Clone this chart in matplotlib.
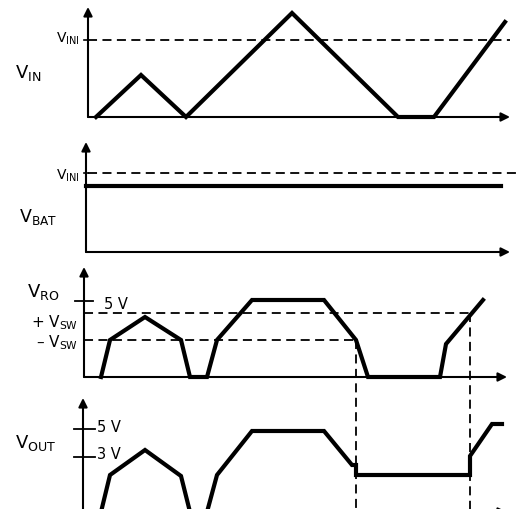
import matplotlib
matplotlib.use("Agg")
import matplotlib.pyplot as plt

plt.rcParams['font.family'] = ['DejaVu Sans']

# ---------------- data (time units, level units) ----------------
# Panel 1: V_IN
vin_t = [2.5, 13.75, 25, 51.5, 78, 87, 104.75]
vin_v = [0, 10.5, 0, 26, 0, 0, 23.75]
vini_p1 = 19.25

# Panel 2: V_BAT
vini_p2 = 19.75
vbat_level = 16.5
vbat_t = [0, 103.75]

# Panel 3: V_RO
vro_t = [3.75, 6, 14.75, 23.75, 26, 30.25, 32.75, 41.5, 59.5, 67.5, 70.5, 88.5, 90, 99.25]
vro_v = [0, 9.25, 15, 9.25, 0, 0, 9.25, 19.25, 19.25, 9.25, 0, 0, 8.25, 19.25]
vro_5v = 19
vsw_plus = 16
vsw_minus = 9.25
t_cross_minus = 67.5
t_cross_plus = 96

# Panel 4: V_OUT
vout_t = [3.75, 6, 14.75, 23.75, 26, 30.25, 32.75, 41.5, 59.5, 66.5, 67.5, 67.5, 96, 96, 101.5, 104]
vout_v = [0, 9.25, 15.5, 9, 0, 0, 9.25, 20.25, 20.25, 11.75, 11.75, 9.25, 9.25, 14, 22, 22]
vout_5v = 20.75
vout_3v = 13.75

# ---------------- layout ----------------
W, H = 519, 510
fig = plt.figure(figsize=(W / 100, H / 100), dpi=100)
XLIM = (-21.5, 108.25)

def make_ax(top_px, bot_px, ylim):
    ax = fig.add_axes([0, (H - bot_px) / H, 1, (bot_px - top_px) / H])
    ax.set_xlim(*XLIM)
    ax.set_ylim(*ylim)
    ax.axis('off')
    return ax

ax1 = make_ax(0, 130, (-3, 29.5))
ax2 = make_ax(130, 260, (-1.75, 30.75))
ax3 = make_ax(260, 390, (-3, 29.5))
ax4 = make_ax(390, 510, (0.75, 30.75))

K = 'black'
WLW = 3.0
ALW = 1.5
DASH = dict(color=K, lw=1.3, linestyle=(0, (5, 3)), clip_on=False)

def axes_arrows(ax, x0, ytop, xend):
    ap = dict(arrowstyle='-|>', lw=ALW, color=K, shrinkA=0, shrinkB=0,
              mutation_scale=13)
    ax.annotate('', xy=(x0, ytop), xytext=(x0, 0), arrowprops=ap,
                annotation_clip=False)
    ax.annotate('', xy=(xend, 0), xytext=(x0, 0), arrowprops=ap,
                annotation_clip=False)

def label(ax, t, lv, s, size, ha='left'):
    ax.text(t, lv, s, fontsize=size, ha=ha, va='baseline', color=K)

# Panel 1
axes_arrows(ax1, 0.5, 27.5, 106)
ax1.plot([0.5, 106], [vini_p1, vini_p1], **DASH)
ax1.plot([-0.5, 0.5], [vini_p1, vini_p1], color=K, lw=1.2)
ax1.plot(vin_t, vin_v, color=K, lw=WLW, solid_joinstyle='miter', clip_on=False)
label(ax1, -17.75, 10, r'$\mathregular{V_{IN}}$', 13)
label(ax1, -1.5, 18.75, r'$\mathregular{V_{INI}}$', 10, ha='right')

# Panel 2
axes_arrows(ax2, 0, 27.5, 106)
ax2.plot([0.5, 108.25], [vini_p2, vini_p2], **DASH)
ax2.plot([-0.5, 0.5], [vini_p2, vini_p2], color=K, lw=1.2)
ax2.plot(vbat_t, [vbat_level, vbat_level], color=K, lw=WLW, clip_on=False)
label(ax2, -1.5, 18.25, r'$\mathregular{V_{INI}}$', 10, ha='right')
label(ax2, -16.75, 7.75, r'$\mathregular{V_{BAT}}$', 12.5)

# Panel 3
axes_arrows(ax3, -0.5, 27.5, 105.25)
ax3.plot([-2.75, 1.75], [vro_5v, vro_5v], color=K, lw=1.3)
ax3.plot([-0.5, t_cross_plus], [vsw_plus, vsw_plus], **DASH)
ax3.plot([-0.5, t_cross_minus], [vsw_minus, vsw_minus], **DASH)
ax3.plot([t_cross_minus, t_cross_minus], [vsw_minus, -33], **DASH)
ax3.plot([t_cross_plus, t_cross_plus], [vsw_plus, -33], **DASH)
ax3.plot(vro_t, vro_v, color=K, lw=WLW, solid_joinstyle='miter', clip_on=False)
label(ax3, -14.75, 20.25, r'$\mathregular{V_{RO}}$', 13)
label(ax3, 4.5, 17.25, '5 V', 10.5)
label(ax3, -2, 12.75, r'+ $\mathregular{V_{SW}}$', 11, ha='right')
label(ax3, -2, 7.75, r'– $\mathregular{V_{SW}}$', 11, ha='right')

# Panel 4
axes_arrows(ax4, -0.75, 28.5, 105.25)
ax4.plot([-3, 2.25], [vout_5v, vout_5v], color=K, lw=1.3)
ax4.plot([-3, 2.25], [vout_3v, vout_3v], color=K, lw=1.3)
ax4.plot(vout_t, vout_v, color=K, lw=WLW, solid_joinstyle='miter')
label(ax4, -17.75, 16.25, r'$\mathregular{V_{OUT}}$', 13)
label(ax4, 2.75, 20.25, '5 V', 10.5)
label(ax4, 2.75, 13.5, '3 V', 10.5)

fig.savefig('out.png', dpi=100, facecolor='white')
